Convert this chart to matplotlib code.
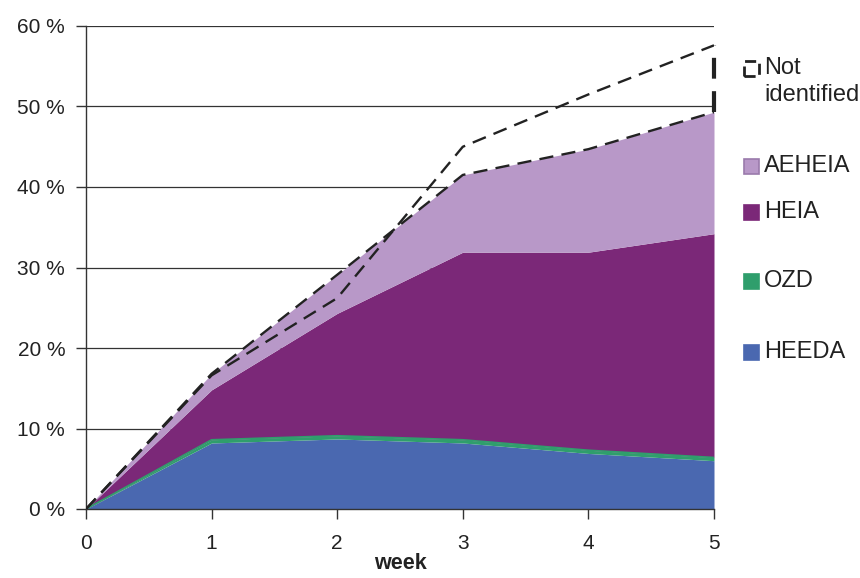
import matplotlib.pyplot as plt
import numpy as np
from matplotlib.patches import Rectangle

plt.rcParams['font.family'] = ['Liberation Sans', 'DejaVu Sans']

weeks = [0, 1, 2, 3, 4, 5]
heeda = [0, 8.2, 8.7, 8.2, 6.9, 6.0]
ozd = [0, 0.4, 0.4, 0.4, 0.4, 0.4]
heia = [0, 6.2, 15.2, 23.3, 24.6, 27.8]
aeheia = [0, 2.0, 4.8, 9.6, 12.8, 15.1]
total = [0, 16.6, 26.2, 45.0, 51.5, 57.6]   # dashed "Not identified" upper line

labels = ['HEEDA', 'OZD', 'HEIA', 'AEHEIA']
colors = ['#4a68b0', '#2f9e6c', '#7b2878', '#b898c8']

fig = plt.figure(figsize=(8.6, 5.78), dpi=100)
ax = fig.add_axes([86/860, 1 - 509/578, (714-86)/860, (509-26)/578])

x = np.array(weeks)
layers = [np.array(heeda), np.array(ozd), np.array(heia), np.array(aeheia)]
base = np.zeros(len(x))
for vals, c in zip(layers, colors):
    ax.fill_between(x, base, base + vals, color=c, lw=0, zorder=2)
    base = base + vals

# OZD thin band edge
ax.plot(x, np.array(heeda) + np.array(ozd), color='#2f9e6c', lw=1.2, zorder=3)

# not identified outline
dash = dict(color='#222222', lw=1.7, dashes=(6, 3.5), zorder=4)
ax.plot(x, base, **dash)
ax.plot(x, total, **dash)
ax.plot([5, 5], [base[-1], total[-1]], color='#222222', lw=3, dashes=(5, 3),
        clip_on=False, zorder=5)

ax.set_xlim(0, 5)
ax.set_ylim(0, 60)
ax.set_yticks(range(0, 61, 10))
ax.set_yticklabels([f'{v} %' for v in range(0, 61, 10)])
ax.set_xticks(weeks)
for yv in range(10, 61, 10):
    ax.axhline(yv, color='#333333', lw=0.9, zorder=1)
ax.spines['top'].set_visible(False)
ax.spines['right'].set_visible(False)
for s in ['left', 'bottom']:
    ax.spines[s].set_color('#333333')
    ax.spines[s].set_linewidth(1.0)
ax.tick_params(axis='both', colors='#333333', labelcolor='#222222', labelsize=15,
               length=7, width=1.0, direction='out')
ax.tick_params(axis='y', pad=8)
ax.tick_params(axis='x', pad=11)
ax.set_xlabel('week', fontsize=15.5, fontweight='bold', color='#222222')
ax.xaxis.set_label_coords(0.5, (509 - 553) / 483)

# legend, placed by hand
def legend_entry(ypix, text, fc, ec, ls='-', lw=1.2):
    sq = 15
    r = Rectangle((744/860, 1 - (ypix + sq/2)/578), sq/860, sq/578,
                  transform=fig.transFigure, facecolor=fc, edgecolor=ec,
                  lw=lw, linestyle=ls)
    fig.add_artist(r)
    fig.text(764/860, 1 - ypix/578, text, fontsize=17, va='center', ha='left',
             color='#222222')

legend_entry(68, 'Not', 'white', '#222222', ls=(0, (4, 2)), lw=2)
fig.text(764/860, 1 - 95/578, 'identified', fontsize=17, va='center', ha='left', color='#222222')
legend_entry(166, 'AEHEIA', colors[3], '#9a7aac')
legend_entry(212, 'HEIA', colors[2], colors[2])
legend_entry(281, 'OZD', colors[1], colors[1])
legend_entry(352, 'HEEDA', colors[0], colors[0])

fig.savefig('out.png', dpi=100)
